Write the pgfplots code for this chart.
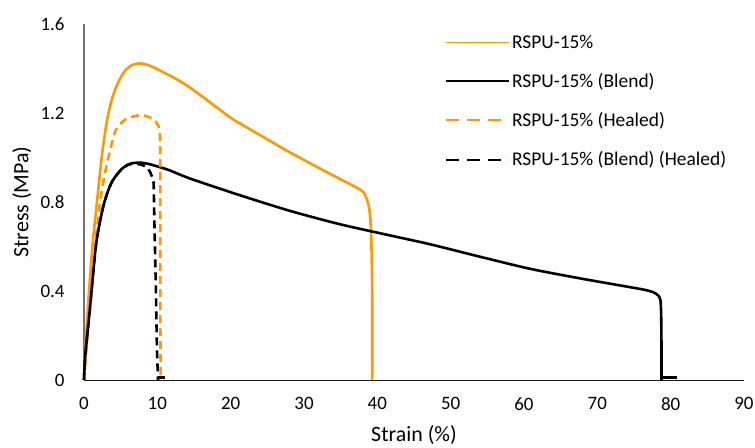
\documentclass[border=0pt]{standalone}
\usepackage{pgfplots}
\pgfplotsset{compat=1.18}
\usepackage{fontspec}
\setmainfont{Carlito}
\definecolor{xlorange}{RGB}{255,153,0}
\begin{document}
\begin{tikzpicture}
\begin{axis}[
  name=ax,
  at={(0,0)}, anchor=south west,
  scale only axis,
  width=660bp, height=356bp,
  xmin=0, xmax=90, ymin=0, ymax=1.6,
  clip=false,
  axis lines*=left,
  x axis line style={-, black!90, line width=0.9bp},
  y axis line style={-, black!55, line width=1.1bp},
  xtick={0,10,20,30,40,50,60,70,80,90},
  xticklabels={0,10,20,30,40,50,60,70,80,90},
  ytick={0,0.4,0.8,1.2,1.6},
  yticklabels={0,0.4,0.8,1.2,1.6},
  major tick length=0pt,
  tick label style={font=\fontsize{19}{22}\selectfont, text=black},
  xticklabel style={yshift=-14bp},
  yticklabel style={xshift=-16bp},
  xlabel={Strain (\%)},
  ylabel={Stress (MPa)},
  label style={font=\fontsize{22}{26}\selectfont, text=black},
  xlabel style={at={(axis description cs:0.5,-0.155)}, anchor=center},
  ylabel style={at={(axis description cs:-0.094,0.5)}, anchor=center},
  legend style={at={(rel axis cs:0.547,0.975)}, anchor=north west, draw=none, fill=none,
    font=\fontsize{19.5}{23}\selectfont, row sep=19.5bp, inner sep=0pt},
  legend cell align=left,
  legend image code/.code={\path (0bp,0bp) -- (63bp,0bp); \draw[#1] (0bp,0bp) -- (57bp,0bp);},
  line join=round,
]
\addplot[xlorange, line width=2.6bp, smooth, tension=0.45,
  legend image post style={line width=1.9bp}] coordinates {
(0,0) (0.4,0.26) (1.09,0.58) (1.77,0.8) (2.45,1.01) (3.1,1.16) (3.7,1.25) (4.3,1.31) (5.0,1.36) (5.6,1.39) (6.5,1.415) (7.5,1.423) (8.5,1.418) (9.5,1.405) (11,1.38) (13,1.345) (15.4,1.292) (18.5,1.215) (20.5,1.168) (23.1,1.118) (27.6,1.032) (32.2,0.95) (36.7,0.873) (37.6,0.857) (38.2,0.84) (38.6,0.81) (38.9,0.77) (39.1,0.7) (39.2,0.6) (39.3,0.4) (39.3,0)
};
\addlegendentry{RSPU-15\%}
\addplot[black, line width=2.6bp, smooth, tension=0.45,
  legend image post style={line width=1.9bp}] coordinates {
(0,0) (0.18,0.11) (0.86,0.34) (1.3,0.5) (1.77,0.64) (2.7,0.79) (3.8,0.89) (5.2,0.95) (6.3,0.972) (7.5,0.977) (8.7,0.972) (10.4,0.956) (11.7,0.942) (14.5,0.905) (21.3,0.83) (28.1,0.76) (34.9,0.70) (41.7,0.65) (47.2,0.61) (54.0,0.554) (60.8,0.50) (67.6,0.457) (74.5,0.417) (76.5,0.405) (77.6,0.395) (78.3,0.38) (78.6,0.36) (78.7,0.3) (78.75,0.15) (78.75,0)
};
\addlegendentry{RSPU-15\% (Blend)}
\addplot[xlorange, line width=2.6bp, smooth, tension=0.45, dash pattern=on 8bp off 5bp,
  legend image post style={line width=1.9bp, dash pattern=on 13bp off 8bp}] coordinates {
(0,0) (0.5,0.22) (0.9,0.38) (1.3,0.54) (2.2,0.80) (2.8,0.92) (3.4,1.01) (4.3,1.12) (5.6,1.17) (7.5,1.19) (8.6,1.185) (9.5,1.17) (10.0,1.15) (10.3,1.12) (10.4,1.01) (10.4,0.5) (10.45,0)
};
\addlegendentry{RSPU-15\% (Healed)}
\addplot[black, line width=2.6bp, smooth, tension=0.45, dash pattern=on 8bp off 5bp,
  legend image post style={line width=1.9bp, dash pattern=on 13bp off 8bp}] coordinates {
(0,0) (0.18,0.11) (0.86,0.34) (1.3,0.5) (1.77,0.64) (2.7,0.79) (3.8,0.89) (5.2,0.95) (6.3,0.97) (7.5,0.97) (8.4,0.96) (9.0,0.936) (9.4,0.9) (9.5,0.876) (9.6,0.71) (9.8,0.41) (9.95,0.14) (10.1,0.0)
};
\addlegendentry{RSPU-15\% (Blend) (Healed)}
\addplot[forget plot, black, line width=2.6bp] coordinates {(78.75,0.01) (80.8,0.01)};
\addplot[forget plot, black, line width=2.6bp] coordinates {(10.1,0.01) (11.1,0.01)};
\end{axis}
\pgfresetboundingbox
\path (-84bp,-68bp) rectangle (671bp,380bp);
\end{tikzpicture}
\end{document}
